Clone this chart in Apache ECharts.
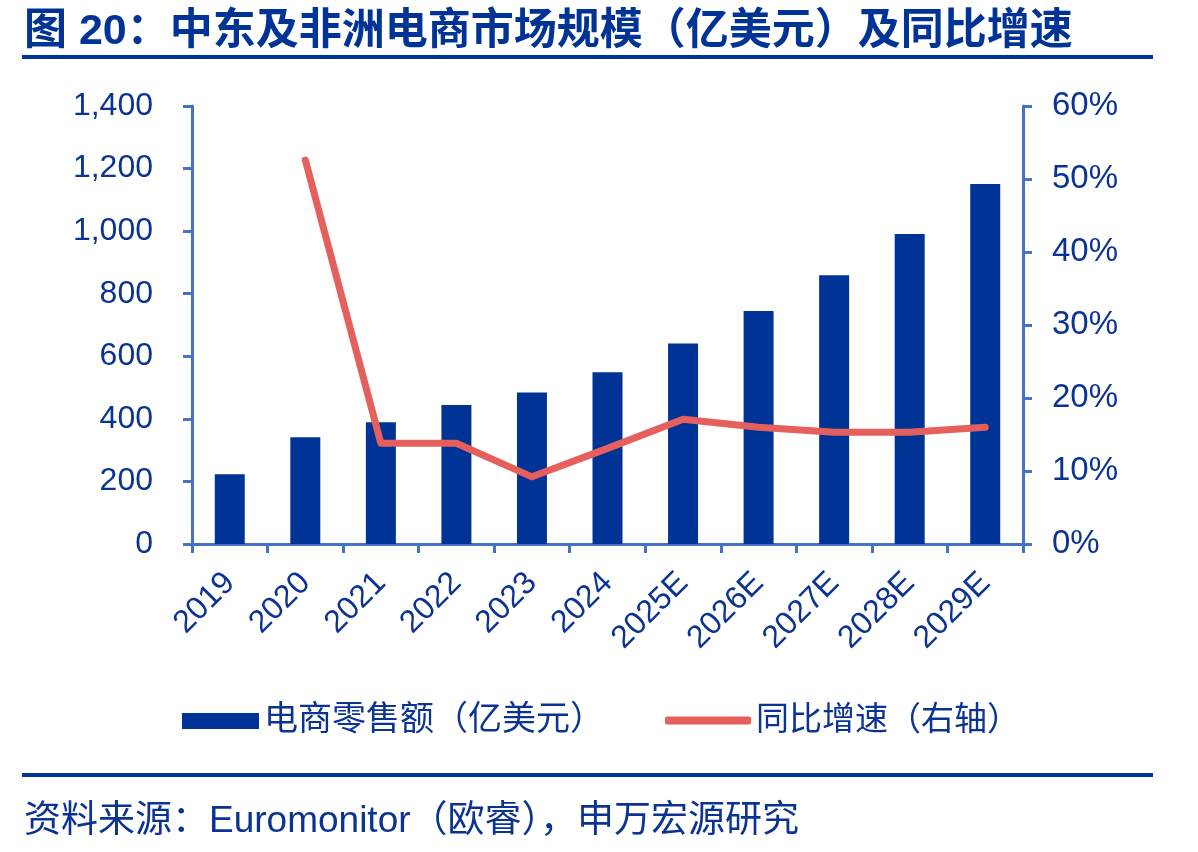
<!DOCTYPE html>
<html>
<head>
<meta charset="utf-8">
<script src="https://cdn.jsdelivr.net/npm/echarts@6/dist/echarts.min.js"></script>
<style>
  html, body { margin: 0; padding: 0; background: #fff; }
  #mycharts { width: 1198px; height: 852px; }
</style>
</head>
<body>
<div id="mycharts"></div>
<script>
const years = ["2019", "2020", "2021", "2022", "2023", "2024", "2025E", "2026E", "2027E", "2028E", "2029E"];
// 电商零售额（亿美元）
const sales = [223, 341, 389, 444, 484, 549, 641, 745, 859, 991, 1151];
// 同比增速（%），2019 无数据
const growth = [null, 52.6, 13.8, 13.8, 9.2, 13.1, 17.1, 16.0, 15.3, 15.3, 16.0];
const leftTicks = { min: 0, max: 1400, interval: 200 };
const rightTicks = { min: 0, max: 60, interval: 10 };

const blue = "#003396";
const red = "#e5605d";
const axisBlue = "#4472c4";
const textBlue = "#0b3394";
const font = "'Liberation Sans', Arial, 'Noto Sans CJK SC', sans-serif";

var chartDom = document.getElementById("mycharts");
var myChart = echarts.init(chartDom);
var option;

option = {
  animation: false,
  textStyle: { fontFamily: font },
  title: [
    {
      text: "图 20：中东及非洲电商市场规模（亿美元）及同比增速",
      left: 19,
      top: 6,
      textStyle: { color: blue, fontSize: 43, fontWeight: "bold", fontFamily: font },
    },
    {
      text: "资料来源：Euromonitor（欧睿），申万宏源研究",
      left: 19,
      top: 798,
      textStyle: { color: textBlue, fontSize: 37, fontWeight: "normal", fontFamily: font },
    },
  ],
  graphic: [
    { type: "rect", shape: { x: 22, y: 55, width: 1131, height: 4 }, style: { fill: blue } },
    { type: "rect", shape: { x: 22, y: 773, width: 1131, height: 4 }, style: { fill: blue } },
  ],
  legend: [
    {
      data: [{ name: "电商零售额（亿美元）", icon: "rect" }],
      left: 177,
      top: 699,
      itemWidth: 77,
      itemHeight: 16,
      textStyle: { color: textBlue, fontSize: 34, fontFamily: font },
    },
    {
      data: [{ name: "同比增速（右轴）", icon: "roundRect" }],
      left: 660,
      top: 699,
      itemWidth: 86,
      itemHeight: 8,
      textStyle: { color: textBlue, fontSize: 33, fontFamily: font },
    },
  ],
  grid: { left: 192, right: 175, top: 106, bottom: 308, containLabel: false },
  xAxis: {
    type: "category",
    data: years,
    axisLine: { lineStyle: { color: axisBlue, width: 3 } },
    axisTick: { show: true, length: 9, lineStyle: { color: axisBlue, width: 3 } },
    axisLabel: { rotate: 45, margin: 34, color: textBlue, fontSize: 32, fontFamily: font, interval: 0 },
  },
  yAxis: [
    {
      type: "value",
      min: leftTicks.min,
      max: leftTicks.max,
      interval: leftTicks.interval,
      splitLine: { show: false },
      axisLine: { show: true, lineStyle: { color: axisBlue, width: 3 } },
      axisTick: { show: true, length: 9, lineStyle: { color: axisBlue, width: 3 } },
      axisLabel: {
        margin: 39,
        color: textBlue,
        fontSize: 32,
        fontFamily: font,
        formatter: function (v) { return v.toLocaleString("en-US"); },
      },
    },
    {
      type: "value",
      position: "right",
      min: rightTicks.min,
      max: rightTicks.max,
      interval: rightTicks.interval,
      splitLine: { show: false },
      axisLine: { show: true, lineStyle: { color: axisBlue, width: 3 } },
      axisTick: { show: true, length: 9, lineStyle: { color: axisBlue, width: 3 } },
      axisLabel: { margin: 29, color: textBlue, fontSize: 33, fontFamily: font, formatter: "{value}%" },
    },
  ],
  series: [
    {
      name: "电商零售额（亿美元）",
      type: "bar",
      data: sales,
      barWidth: 30,
      itemStyle: { color: blue },
    },
    {
      name: "同比增速（右轴）",
      type: "line",
      yAxisIndex: 1,
      data: growth,
      showSymbol: false,
      symbol: "none",
      itemStyle: { color: red },
      lineStyle: { color: red, width: 7, cap: "round", join: "round" },
    },
  ],
};

option && myChart.setOption(option);
</script>
</body>
</html>
